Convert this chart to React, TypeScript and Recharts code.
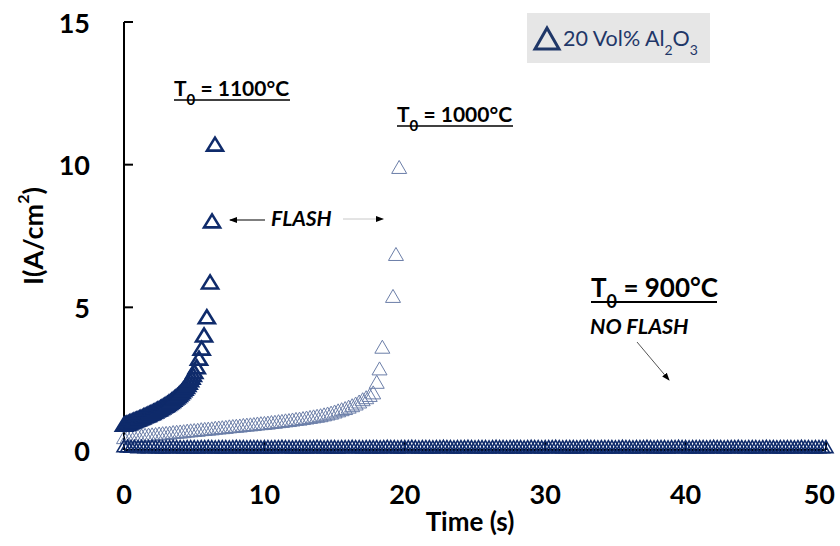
import React from 'react';
import { ScatterChart, Scatter, XAxis, YAxis } from 'recharts';

const X_TICKS = [0, 10, 20, 30, 40, 50];
const Y_TICKS = [0, 5, 10, 15];

// T0 = 1100 °C : dense record sampled every 0.1 s, then the flash points
const T1100_STEP = 0.1;
const I1100_DENSE = [
  0.90, 0.92, 0.94, 0.96, 0.98, 1.00, 1.02, 1.04, 1.06, 1.08,
  1.10, 1.12, 1.14, 1.16, 1.19, 1.21, 1.23, 1.25, 1.28, 1.30,
  1.32, 1.35, 1.37, 1.40, 1.43, 1.45, 1.48, 1.51, 1.54, 1.57,
  1.60, 1.63, 1.67, 1.70, 1.74, 1.78, 1.82, 1.86, 1.90, 1.95,
  2.00, 2.05, 2.11, 2.17, 2.23, 2.30, 2.38, 2.46, 2.55, 2.65,
  2.75,
];
const T1100_TAIL = [5.18, 5.34, 5.53, 5.70, 5.90, 6.13, 6.27, 6.48];
const I1100_TAIL = [2.92, 3.22, 3.57, 4.03, 4.67, 5.89, 8.03, 10.72];

// T0 = 1000 °C : sampled every 0.25 s, then the flash points
const T1000_STEP = 0.25;
const I1000_DENSE = [
  0.45, 0.46, 0.48, 0.49, 0.50, 0.51, 0.53, 0.54, 0.55, 0.56,
  0.58, 0.59, 0.60, 0.61, 0.63, 0.64, 0.65, 0.66, 0.68, 0.69,
  0.70, 0.71, 0.73, 0.74, 0.75, 0.76, 0.78, 0.79, 0.80, 0.81,
  0.83, 0.84, 0.85, 0.86, 0.88, 0.89, 0.90, 0.91, 0.93, 0.94,
  0.95, 0.96, 0.98, 0.99, 1.01, 1.02, 1.04, 1.05, 1.07, 1.09,
  1.10, 1.12, 1.14, 1.16, 1.18, 1.20, 1.22, 1.25, 1.28, 1.31,
  1.35, 1.39, 1.43, 1.47, 1.52, 1.57, 1.63, 1.70, 1.78, 1.85,
  1.93, 2.02,
];
const T1000_TAIL = [18.0, 18.2, 18.4, 19.16, 19.37, 19.6];
const I1000_TAIL = [2.39, 2.86, 3.62, 5.40, 6.87, 9.92];

// T0 = 900 °C : sampled every 0.25 s, no flash
const T900_STEP = 0.25;
const I900 = [
  0.15, 0.14, 0.13, 0.13, 0.12, 0.13, 0.12, 0.12, 0.13, 0.12, 0.12, 0.11, 0.12, 0.12, 0.13, 0.12, 0.12, 0.11, 0.12, 0.12,
  0.12, 0.11, 0.12, 0.12, 0.13, 0.12, 0.11, 0.12, 0.12, 0.12, 0.11, 0.12, 0.13, 0.12, 0.12, 0.11, 0.12, 0.12, 0.12, 0.11,
  0.12, 0.12, 0.11, 0.12, 0.12, 0.13, 0.12, 0.12, 0.11, 0.12, 0.12, 0.12, 0.11, 0.12, 0.12, 0.13, 0.12, 0.11, 0.12, 0.12,
  0.12, 0.11, 0.12, 0.12, 0.12, 0.13, 0.12, 0.12, 0.11, 0.12, 0.12, 0.12, 0.12, 0.11, 0.12, 0.13, 0.12, 0.12, 0.11, 0.12,
  0.12, 0.12, 0.13, 0.12, 0.11, 0.12, 0.12, 0.12, 0.11, 0.12, 0.12, 0.13, 0.12, 0.12, 0.11, 0.12, 0.12, 0.12, 0.13, 0.12,
  0.11, 0.12, 0.12, 0.12, 0.11, 0.12, 0.13, 0.12, 0.12, 0.11, 0.12, 0.12, 0.12, 0.12, 0.11, 0.12, 0.13, 0.12, 0.12, 0.11,
  0.12, 0.12, 0.12, 0.13, 0.12, 0.11, 0.12, 0.12, 0.12, 0.11, 0.12, 0.12, 0.13, 0.12, 0.12, 0.11, 0.12, 0.12, 0.12, 0.12,
  0.11, 0.12, 0.13, 0.12, 0.12, 0.11, 0.12, 0.12, 0.12, 0.13, 0.12, 0.11, 0.12, 0.12, 0.12, 0.11, 0.12, 0.12, 0.13, 0.12,
  0.12, 0.11, 0.12, 0.12, 0.12, 0.12, 0.11, 0.12, 0.13, 0.12, 0.12, 0.11, 0.12, 0.12, 0.12, 0.13, 0.12, 0.11, 0.12, 0.12,
  0.12, 0.11, 0.12, 0.13, 0.12, 0.12, 0.11, 0.12, 0.12, 0.12, 0.12, 0.11, 0.12, 0.13, 0.12, 0.12, 0.11, 0.12, 0.12, 0.12,
  0.12,
];

const build = (step: number, dense: number[], tailT: number[] = [], tailI: number[] = []) => [
  ...dense.map((v, k) => ({ t: +(k * step).toFixed(3), i: v })),
  ...tailT.map((t, k) => ({ t, i: tailI[k] })),
];

const d1100 = build(T1100_STEP, I1100_DENSE, T1100_TAIL, I1100_TAIL);
const d1000 = build(T1000_STEP, I1000_DENSE, T1000_TAIL, I1000_TAIL);
const d900 = build(T900_STEP, I900);

const FONT = "Lato, 'Open Sans', sans-serif";

const triangle = (w: number, h: number, color: string, sw: number) => (props: any) => {
  const { cx, cy } = props;
  if (cx == null || cy == null) return null;
  const pts = `${cx},${cy - h / 2} ${cx + w / 2},${cy + h / 2} ${cx - w / 2},${cy + h / 2}`;
  return <polygon points={pts} fill="none" stroke={color} strokeWidth={sw} strokeLinejoin="miter" />;
};

const DARK = '#0f2b6b';
const LIGHT = '#6b7ea8';

const XTick = (props: any) => {
  const { x, y, payload } = props;
  const last = payload.value === X_TICKS[X_TICKS.length - 1];
  return (
    <text
      x={last ? x + 9 : x}
      y={y}
      textAnchor={last ? 'end' : 'middle'}
      dominantBaseline="hanging"
      fontFamily={FONT}
      fontWeight={700}
      fontSize={27}
      fill="#000"
    >
      {payload.value}
    </text>
  );
};

const YTick = (props: any) => {
  const { x, y, payload } = props;
  return (
    <text x={x} y={y} textAnchor="end" dominantBaseline="central" fontFamily={FONT} fontWeight={700} fontSize={27} fill="#000">
      {payload.value}
    </text>
  );
};

export default function App() {
  return (
    <div style={{ position: 'absolute', left: 0, top: 0, width: 840, height: 546, background: '#fff' }}>
      <ScatterChart width={840} height={546} margin={{ top: 22, right: 14, left: 0, bottom: 0 }}>
        <XAxis
          type="number"
          dataKey="t"
          domain={[0, 50]}
          ticks={X_TICKS}
          interval={0}
          height={96}
          axisLine={{ stroke: '#000', strokeWidth: 2 }}
          tickLine={{ stroke: '#000', strokeWidth: 2 }}
          tickSize={-8}
          tickMargin={40}
          tick={<XTick />}
        />
        <YAxis
          type="number"
          dataKey="i"
          domain={[0, 15]}
          ticks={Y_TICKS}
          interval={0}
          width={124}
          axisLine={{ stroke: '#000', strokeWidth: 2 }}
          tickLine={{ stroke: '#000', strokeWidth: 2 }}
          tickSize={-9}
          tickMargin={43}
          tick={<YTick />}
        />
        <Scatter data={d1000} isAnimationActive={false} shape={triangle(15, 13, LIGHT, 1)} />
        <Scatter data={d900} isAnimationActive={false} shape={triangle(14, 12, DARK, 1.6)} />
        <Scatter data={d1100} isAnimationActive={false} shape={triangle(16, 13, DARK, 2.6)} />
      </ScatterChart>
      <svg width={840} height={546} style={{ position: 'absolute', left: 0, top: 0, pointerEvents: 'none' }}>
        <defs>
          <marker id="ah" markerWidth="8" markerHeight="8" refX="7" refY="4" orient="auto" markerUnits="userSpaceOnUse">
            <path d="M0,1 L8,4 L0,7 Z" fill="#000" />
          </marker>
        </defs>
        {/* axis titles */}
        <text x={470} y={521} textAnchor="middle" dominantBaseline="central" fontFamily={FONT} fontWeight={700} fontSize={26}>
          Time (s)
        </text>
        <text transform="translate(32,236) rotate(-90)" textAnchor="middle" dominantBaseline="central" fontFamily={FONT} fontWeight={700} fontSize={27}>
          I(A/cm<tspan baseline-shift="super" fontSize={16}>2</tspan>)
        </text>
        {/* legend */}
        <rect x={527} y={13} width={183} height={50} fill="#e6e6e6" />
        <polygon points="547,28 535,49 559,49" fill="none" stroke="#1f3768" strokeWidth={3} />
        <text x={563} y={46} fontFamily={FONT} fontSize={21.5} fill="#1f3768">
          20 Vol% Al<tspan baseline-shift="sub" fontSize={14}>2</tspan>O<tspan baseline-shift="sub" fontSize={14}>3</tspan>
        </text>
        {/* annotations */}
        <text x={174} y={96} fontFamily={FONT} fontWeight={700} fontSize={21}>
          T<tspan baseline-shift="sub" fontSize={15}>0</tspan> = 1100°C
        </text>
        <line x1={174} y1={100} x2={290} y2={100} stroke="#000" strokeWidth={1.6} />
        <text x={397} y={122} fontFamily={FONT} fontWeight={700} fontSize={21}>
          T<tspan baseline-shift="sub" fontSize={15}>0</tspan> = 1000°C
        </text>
        <line x1={397} y1={126} x2={513} y2={126} stroke="#000" strokeWidth={1.6} />
        <text x={591} y={297} fontFamily={FONT} fontWeight={700} fontSize={26}>
          T<tspan baseline-shift="sub" fontSize={18}>0</tspan> = 900°C
        </text>
        <line x1={591} y1={302} x2={717} y2={302} stroke="#000" strokeWidth={2} />
        <text x={590} y={334} fontFamily={FONT} fontWeight={700} fontStyle="italic" fontSize={21.5}>
          NO FLASH
        </text>
        <text x={271} y={226} fontFamily={FONT} fontWeight={700} fontStyle="italic" fontSize={21}>
          FLASH
        </text>
        <line x1={265} y1={220} x2={230} y2={220} stroke="#000" strokeWidth={1.2} markerEnd="url(#ah)" />
        <line x1={343} y1={219} x2={383} y2={219} stroke="#c8c8c8" strokeWidth={1} markerEnd="url(#ah)" />
        <line x1={637} y1={342} x2={669} y2={380} stroke="#555" strokeWidth={1} markerEnd="url(#ah)" />
      </svg>
    </div>
  );
}
